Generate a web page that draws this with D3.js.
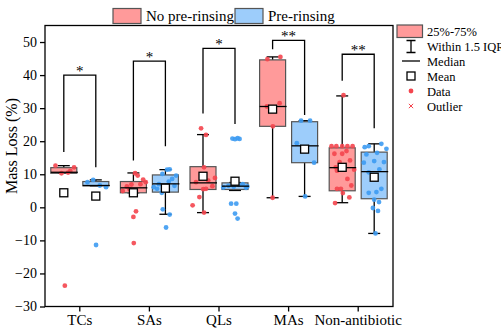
<!DOCTYPE html>
<html>
<head>
<meta charset="utf-8">
<script src="https://cdn.jsdelivr.net/npm/d3@7"></script>
<style>
  body { margin: 0; background: #fff; }
</style>
</head>
<body>
<svg id="chart" width="501" height="333"></svg>
<script>
var categories = ["TCs", "SAs", "QLs", "MAs", "Non-antibiotic"];
var seriesNames = ["No pre-rinsing", "Pre-rinsing"];
var yTicks = [-30, -20, -10, 0, 10, 20, 30, 40, 50];

// box stats, No pre-rinsing
var redQ1 = [10.3, 4.4, 5.4, 24.5, 5.0];
var redMedian = [10.6, 5.9, 7.4, 30.5, 12.0];
var redQ3 = [12.0, 7.8, 12.3, 44.6, 18.0];
var redLow = [10.3, 4.4, -1.6, 2.9, 1.4];
var redHigh = [12.6, 10.4, 22.0, 45.5, 33.7];
var redMean = [4.4, 4.4, 9.4, 29.7, 12.1];

// box stats, Pre-rinsing
var blueQ1 = [6.5, 4.6, 5.4, 13.5, 2.6];
var blueMedian = [6.6, 7.1, 6.4, 18.6, 10.8];
var blueQ3 = [7.8, 9.8, 7.4, 25.9, 16.7];
var blueLow = [6.5, -2.1, 5.1, 3.3, -7.9];
var blueHigh = [8.3, 11.4, 7.5, 26.2, 19.2];
var blueMean = [3.4, 5.8, 7.9, 17.6, 9.1];

// raw data points: [jitter (-1..1 of half box), value]
var redPoints = [
  [[-0.64, 12.6], [-0.18, 10.3], [0.33, 10.5], [0.79, 12.1], [0.5, 11.0], [0.08, -23.7]],
  [[-0.82, 4.9], [-0.5, 6.3], [-0.15, 6.9], [0.13, 10.3], [0.33, 9.6], [0.54, 7.0], [0.75, 8.4], [0.95, 7.6],
   [-0.3, 5.5], [0.2, -1.2], [0.0, -2.9], [0.03, -10.8]],
  [[-0.15, 23.9], [0.23, 21.9], [0.08, 12.1], [0.92, 8.9], [0.72, 6.4], [-0.54, 7.6], [0.02, 5.5], [0.23, 5.6],
   [0.4, 8.1], [-0.28, 3.1], [-0.8, 0.6], [0.08, -1.6]],
  [[-0.4, 44.8], [0.6, 45.5], [0.54, 31.5], [-0.44, 30.5], [0.02, 24.5], [0.0, 2.9]],
  [[-0.82, 18.5], [-0.45, 18.5], [0.0, 18.5], [0.4, 18.5], [0.8, 18.5], [-0.6, 16.2], [0.0, 16.2], [0.33, 17.0],
   [0.6, 14.2], [-0.2, 13.7], [-0.4, 11.1], [0.92, 11.4], [-0.5, 12.1], [0.4, 8.6], [0.7, 6.6], [-0.4, 5.6],
   [-0.1, 5.6], [0.05, 4.3], [0.55, 3.0], [-0.55, 1.3], [0.1, 33.9]]
];
var bluePoints = [
  [[-0.64, 7.6], [-0.2, 8.3], [0.31, 6.6], [0.79, 6.1], [0.02, -11.4]],
  [[-0.23, 10.1], [0.13, 11.4], [0.33, 11.5], [0.82, 9.6], [-0.9, 6.1], [-0.64, 5.6], [-0.28, 4.4], [0.26, 7.8],
   [0.52, 8.6], [0.7, 6.5], [-0.5, 7.0], [-0.2, -0.6], [0.33, -2.2], [0.05, -6.1]],
  [[-0.2, 20.8], [0.0, 20.6], [0.2, 20.9], [0.35, 20.7], [-0.9, 6.0], [-0.5, 6.5], [-0.1, 6.2], [0.3, 6.8],
   [0.6, 7.0], [0.85, 5.9], [0.95, 6.3], [-0.3, 1.1], [0.1, 1.1], [0.0, -1.9], [0.2, -3.4]],
  [[-0.27, 26.2], [0.42, 26.2], [-0.6, 19.4], [0.73, 13.5], [0.04, 3.3]],
  [[-0.73, 18.2], [-0.42, 18.5], [0.55, 19.2], [0.94, 17.7], [0.22, 16.5], [-0.6, 16.0], [-0.8, 13.5], [0.0, 14.0],
   [0.75, 13.7], [-0.42, 10.6], [0.4, 11.5], [-0.42, 4.4], [0.17, 4.6], [0.55, 5.6], [0.0, 2.3], [0.37, 1.6],
   [-0.1, -0.2], [0.29, -1.1], [0.1, -7.9]]
];

// significance brackets
var bracketTop = [40, 44.2, 48.1, 50.5, 46.3];
var bracketLeftEnd = [16.7, 14.2, 28.4, 47.8, 38.3];
var bracketRightEnd = [12.1, 18.5, 25.2, 27.9, 23.9];
var bracketLabels = ["*", "*", "*", "**", "**"];

var statsLegend = ["25%-75%", "Within 1.5 IQR", "Median", "Mean", "Data", "Outlier"];

var fills = ["#ff9a9a", "#9dcdfb"];
var dots = ["#f4454e", "#3d9bf2"];
var boxStroke = "#555";
var serif = "'Liberation Serif', 'Times New Roman', 'DejaVu Serif', serif";

var plotLeft = 45, plotRight = 393, plotTop = 25.5, plotBottom = 306.5;
var svg = d3.select("#chart");

var x = d3.scaleBand().domain(categories).range([plotLeft, plotRight]);
var y = d3.scaleLinear().domain([-30, 55]).range([plotBottom, plotTop]);

var boxW = 26, offset = 16, capW = 12;

var groups = [
  { q1: redQ1, med: redMedian, q3: redQ3, lo: redLow, hi: redHigh, mean: redMean, pts: redPoints },
  { q1: blueQ1, med: blueMedian, q3: blueQ3, lo: blueLow, hi: blueHigh, mean: blueMean, pts: bluePoints }
];

// axes
svg.append("g")
  .attr("transform", "translate(" + plotLeft + ",0)")
  .call(d3.axisLeft(y).tickValues(yTicks).tickSize(5).tickSizeOuter(0))
  .call(function (g) {
    g.select(".domain").remove();
    g.selectAll("line").attr("stroke", "#000").attr("stroke-width", 1.3);
    g.selectAll("text").style("font-family", serif).style("font-size", "14px").attr("fill", "#000");
  });

svg.append("g")
  .attr("transform", "translate(0," + plotBottom + ")")
  .call(d3.axisBottom(x).tickSize(5).tickSizeOuter(0))
  .call(function (g) {
    g.select(".domain").remove();
    g.selectAll("line").attr("stroke", "#000").attr("stroke-width", 1.3);
    g.selectAll("text").style("font-family", serif).style("font-size", "15px").attr("fill", "#000");
  });

svg.append("rect")
  .attr("x", plotLeft).attr("y", plotTop)
  .attr("width", plotRight - plotLeft).attr("height", plotBottom - plotTop)
  .attr("fill", "none").attr("stroke", "#000").attr("stroke-width", 1.3);

// boxes
groups.forEach(function (s, si) {
  categories.forEach(function (c, i) {
    var cx = x(c) + x.bandwidth() / 2 + (si == 0 ? -offset : offset);
    var g = svg.append("g");

    g.append("line")
      .attr("x1", cx).attr("x2", cx)
      .attr("y1", y(s.lo[i])).attr("y2", y(s.hi[i]))
      .attr("stroke", "#000").attr("stroke-width", 1.3);
    [s.lo[i], s.hi[i]].forEach(function (v) {
      g.append("line")
        .attr("x1", cx - capW / 2).attr("x2", cx + capW / 2)
        .attr("y1", y(v)).attr("y2", y(v))
        .attr("stroke", "#000").attr("stroke-width", 1.3);
    });

    g.append("rect")
      .attr("x", cx - boxW / 2).attr("width", boxW)
      .attr("y", y(s.q3[i])).attr("height", y(s.q1[i]) - y(s.q3[i]))
      .attr("fill", fills[si]).attr("stroke", boxStroke).attr("stroke-width", 1.2);

    g.selectAll("circle.dot")
      .data(s.pts[i])
      .enter().append("circle")
      .attr("class", "dot")
      .attr("cx", function (d) { return cx + d[0] * boxW / 2; })
      .attr("cy", function (d) { return y(d[1]); })
      .attr("r", 2.4)
      .attr("fill", dots[si])
      .attr("opacity", 0.9);

    g.append("line")
      .attr("x1", cx - boxW / 2).attr("x2", cx + boxW / 2 + 1)
      .attr("y1", y(s.med[i])).attr("y2", y(s.med[i]))
      .attr("stroke", "#000").attr("stroke-width", 1.3);

    g.append("rect")
      .attr("x", cx - 4).attr("y", y(s.mean[i]) - 4)
      .attr("width", 8).attr("height", 8)
      .attr("fill", "#fff").attr("stroke", "#000").attr("stroke-width", 1.3);
  });
});

// brackets
categories.forEach(function (c, i) {
  var x1 = x(c) + x.bandwidth() / 2 - offset,
      x2 = x(c) + x.bandwidth() / 2 + offset;
  svg.append("path")
    .attr("d", "M" + x1 + "," + y(bracketLeftEnd[i]) + "V" + y(bracketTop[i]) +
      "H" + x2 + "V" + y(bracketRightEnd[i]))
    .attr("fill", "none").attr("stroke", "#000").attr("stroke-width", 1.3);
  svg.append("text")
    .attr("x", (x1 + x2) / 2).attr("y", y(bracketTop[i]) + 1)
    .attr("text-anchor", "middle")
    .style("font-family", serif)
    .style("font-size", "15px")
    .text(bracketLabels[i]);
});

// y label
svg.append("text")
  .attr("transform", "translate(17,146) rotate(-90)")
  .attr("text-anchor", "middle")
  .style("font-family", serif)
  .style("font-size", "16px")
  .text("Mass Loss (%)");

// top legend
var topLegX = [113, 235];
seriesNames.forEach(function (n, i) {
  svg.append("rect")
    .attr("x", topLegX[i]).attr("y", 8.5).attr("width", 28).attr("height", 15)
    .attr("fill", fills[i]).attr("stroke", boxStroke).attr("stroke-width", 1.2);
  svg.append("text")
    .attr("x", topLegX[i] + 33).attr("y", 20.5)
    .style("font-family", serif)
    .style("font-size", "15px")
    .text(n);
});

// right legend
var lx = 411, ly = 31, step = 15;
var lg = svg.append("g");
lg.append("rect").attr("x", 397).attr("y", ly - 6).attr("width", 25.5).attr("height", 12.5)
  .attr("fill", fills[0]).attr("stroke", boxStroke).attr("stroke-width", 1.2);
lg.append("path")
  .attr("d", "M" + (lx - 4.5) + "," + (ly + step - 5.5) + "H" + (lx + 4.5) +
    "M" + lx + "," + (ly + step - 5.5) + "V" + (ly + step + 6.5) +
    "M" + (lx - 4.5) + "," + (ly + step + 6.5) + "H" + (lx + 4.5))
  .attr("stroke", "#000").attr("stroke-width", 1.3).attr("fill", "none");
lg.append("line").attr("x1", 402).attr("x2", 420).attr("y1", ly + 2 * step).attr("y2", ly + 2 * step)
  .attr("stroke", "#000").attr("stroke-width", 1.3);
lg.append("rect").attr("x", lx - 4).attr("y", ly + 3 * step - 4).attr("width", 8).attr("height", 8)
  .attr("fill", "#fff").attr("stroke", "#000").attr("stroke-width", 1.3);
lg.append("circle").attr("cx", lx).attr("cy", ly + 4 * step).attr("r", 2.4)
  .attr("fill", dots[0]);
lg.append("path").attr("d", d3.symbol().type(d3.symbolX).size(14))
  .attr("transform", "translate(" + lx + "," + (ly + 5 * step) + ")")
  .attr("stroke", dots[0]).attr("stroke-width", 1).attr("fill", "none");
statsLegend.forEach(function (t, i) {
  lg.append("text")
    .attr("x", 427).attr("y", ly + i * step + 4.5)
    .style("font-family", serif)
    .style("font-size", "12.5px")
    .text(t);
});
</script>
</body>
</html>
